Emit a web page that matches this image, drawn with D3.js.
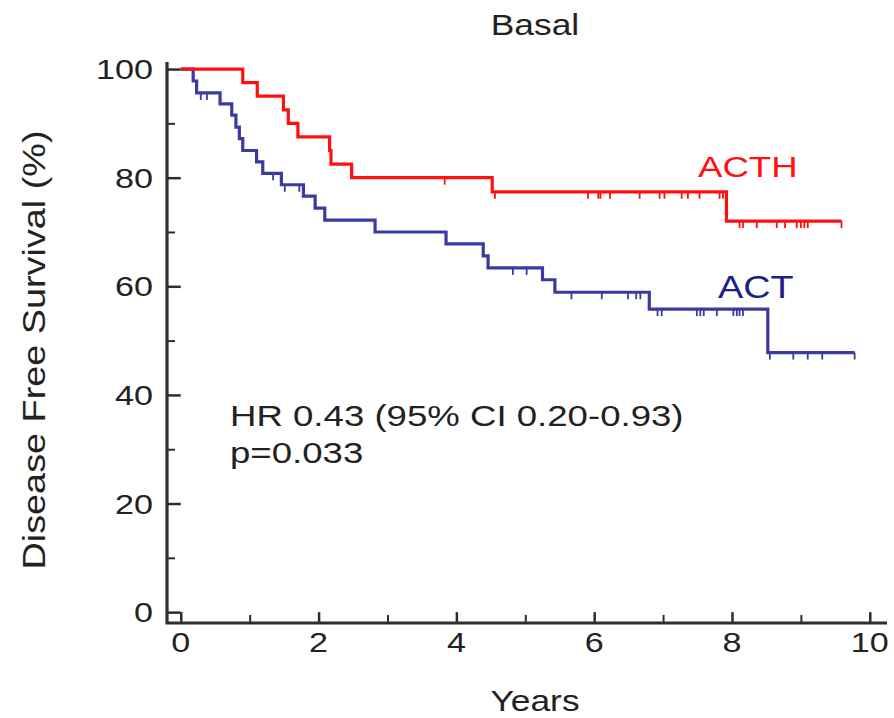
<!DOCTYPE html>
<html>
<head>
<meta charset="utf-8">
<script src="https://cdn.jsdelivr.net/npm/d3@7"></script>
<style>
  body { margin: 0; background: #fff; }
  text { font-family: "Liberation Sans", Arial, sans-serif; }
</style>
</head>
<body>
<svg id="chart" width="894" height="718"></svg>
<script>
// ACTH arm: event times (years) and survival (%) after each event
let acthTimes = [0.90, 1.11, 1.49, 1.56, 1.70, 2.16, 2.18, 2.48, 4.52, 7.92];
let acthSurv = [97.5, 95, 92.5, 90, 87.5, 85, 82.5, 80, 77.4, 72.0];
let acthCensor = [3.83, 4.56, 5.91, 6.06, 6.09, 6.23, 6.66, 6.95, 7.02, 7.27, 7.36, 7.53,
    7.82, 7.87, 8.11, 8.16, 8.36, 8.65, 8.77, 8.94, 9.0, 9.05, 9.1, 9.59];
let acthEnd = 9.59;

// ACT arm
let actTimes = [0.18, 0.23, 0.57, 0.74, 0.80, 0.85, 0.90, 1.10, 1.19, 1.46, 1.78, 1.95,
    2.09, 2.82, 3.85, 4.39, 4.46, 5.25, 5.43, 6.80, 8.52];
let actSurv = [97.8, 95.6, 93.6, 91.5, 89.3, 87.2, 85.0, 82.9, 80.8, 78.7, 76.6, 74.4,
    72.2, 70.0, 67.8, 65.6, 63.4, 61.2, 58.9, 55.8, 47.8];
let actCensor = [0.29, 0.38, 1.34, 1.51, 1.72, 4.82, 5.02, 5.67, 6.11, 6.49, 6.61, 6.67,
    6.92, 6.98, 7.49, 7.54, 7.59, 7.78, 8.02, 8.07, 8.11, 8.16, 8.55, 8.89, 9.1, 9.31, 9.78];
let actEnd = 9.78;

let xTicks = [0, 2, 4, 6, 8, 10];
let yTicks = [0, 20, 40, 60, 80, 100];

let svg = d3.select("#chart");

let x = d3.scaleLinear().domain([-0.2, 10.25]).range([167, 887]);
let y = d3.scaleLinear().domain([-2.0, 101.3]).range([623, 62]);

let axisColor = "#2e2e2e";
let stretch = 1.22;

// text drawn a bit wider than the font, like the source image
function label(px, py, str, size, color, anchor, rotate) {
    return svg.append("text")
        .attr("transform", `translate(${px},${py})` + (rotate ? ` rotate(${rotate})` : "") + ` scale(${stretch},1)`)
        .attr("text-anchor", anchor || "start")
        .attr("font-size", size)
        .attr("fill", color)
        .text(str);
}

// y axis ticks
let yAxis = svg.append("g")
    .attr("transform", `translate(${x.range()[0]},0)`)
    .call(d3.axisRight(y).tickValues(yTicks).tickSize(x(0) - x.range()[0]).tickFormat(""));
yAxis.select(".domain").remove();
yAxis.selectAll("line").attr("stroke", axisColor).attr("stroke-width", 2.5);
svg.append("g")
    .attr("transform", `translate(${x.range()[0]},0)`)
    .call(d3.axisRight(y).tickValues(d3.range(10, 100, 20)).tickSize(8).tickFormat(""))
    .call((g) => g.select(".domain").remove())
    .selectAll("line").attr("stroke", axisColor).attr("stroke-width", 2);
yTicks.forEach((d) => label(x.range()[0] - 14, y(d) + 10, d, 28, "#222", "end"));

// x axis ticks
let xAxis = svg.append("g")
    .attr("transform", `translate(0,${y.range()[0]})`)
    .call(d3.axisTop(x).tickValues(xTicks).tickSize(y.range()[0] - y(0)).tickFormat(""));
xAxis.select(".domain").remove();
xAxis.selectAll("line").attr("stroke", axisColor).attr("stroke-width", 2.5);
svg.append("g")
    .attr("transform", `translate(0,${y.range()[0]})`)
    .call(d3.axisTop(x).tickValues(d3.range(1, 10, 2)).tickSize(8).tickFormat(""))
    .call((g) => g.select(".domain").remove())
    .selectAll("line").attr("stroke", axisColor).attr("stroke-width", 2);
xTicks.forEach((d) => label(x(d), y.range()[0] + 29, d, 28, "#222", "middle"));

// axis lines
svg.append("path")
    .attr("d", `M${x.range()[0]},${y.range()[1]}V${y.range()[0]}H${x.range()[1]}`)
    .attr("fill", "none")
    .attr("stroke", axisColor)
    .attr("stroke-width", 3.2);

// curves
let line = d3.line()
    .x((d) => x(d[0]))
    .y((d) => y(d[1]))
    .curve(d3.curveStepAfter);

function drawArm(times, surv, censor, end, color) {
    let pts = [[0, 100]].concat(times.map((t, i) => [t, surv[i]]));
    pts.push([end, surv[surv.length - 1]]);
    svg.append("path")
        .attr("d", line(pts))
        .attr("fill", "none")
        .attr("stroke", color)
        .attr("stroke-width", 3.2);
    let level = (t) => {
        let i = d3.bisectRight(times, t);
        return i === 0 ? 100 : surv[i - 1];
    };
    svg.append("g")
        .selectAll("line")
        .data(censor)
        .enter()
        .append("line")
        .attr("x1", (d) => x(d))
        .attr("x2", (d) => x(d))
        .attr("y1", (d) => y(level(d)))
        .attr("y2", (d) => y(level(d)) + 7)
        .attr("stroke", color)
        .attr("stroke-width", 1.8);
}

drawArm(actTimes, actSurv, actCensor, actEnd, "#3a3aa0");
drawArm(acthTimes, acthSurv, acthCensor, acthEnd, "#ff1010");

// labels
label(535, 35, "Basal", 29, "#222", "middle");
label(535, 711, "Years", 29, "#222", "middle");
label(45, 350, "Disease Free Survival (%)", 31, "#222", "middle", -90);
label(698, 177, "ACTH", 30, "#ff1010");
label(718, 298, "ACT", 31, "#1e1e85");
label(230, 426, "HR 0.43 (95% CI 0.20-0.93)", 30, "#222");
label(230, 463, "p=0.033", 30, "#222");
</script>
</body>
</html>
